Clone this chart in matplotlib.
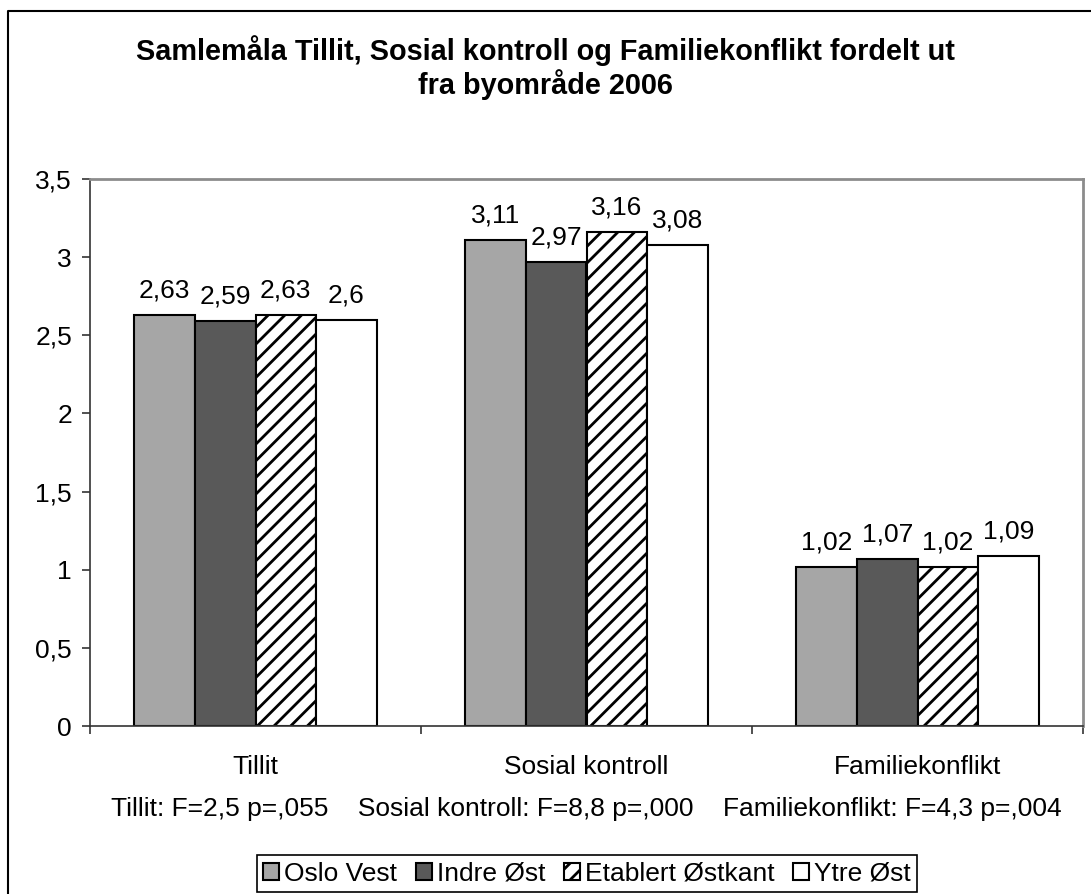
import matplotlib
matplotlib.use("Agg")
import matplotlib.pyplot as plt
from matplotlib.lines import Line2D
import numpy as np

plt.rcParams['font.family'] = ['Liberation Sans', 'DejaVu Sans']
plt.rcParams['hatch.linewidth'] = 2.0

categories = ['Tillit', 'Sosial kontroll', 'Familiekonflikt']
series = ['Oslo Vest', 'Indre Øst', 'Etablert Østkant', 'Ytre Øst']
oslo_vest = [2.63, 3.11, 1.02]
indre_ost = [2.59, 2.97, 1.07]
etablert_ostkant = [2.63, 3.16, 1.02]
ytre_ost = [2.60, 3.08, 1.09]
yticks = [0, 0.5, 1, 1.5, 2, 2.5, 3, 3.5]
ytick_labels = ['0', '0,5', '1', '1,5', '2', '2,5', '3', '3,5']
stats = ['Tillit: F=2,5 p=,055', 'Sosial kontroll: F=8,8 p=,000',
         'Familiekonflikt: F=4,3 p=,004']
title1 = 'Samlemåla Tillit, Sosial kontroll og Familiekonflikt fordelt ut'
title2 = 'fra byområde 2006'

FS = 19
W, H = 1091, 894
fig = plt.figure(figsize=(W / 100, H / 100), dpi=100)
ax = fig.add_axes([90 / W, 1 - 726 / H, (1083 - 90) / W, (726 - 179) / H])

values = [oslo_vest, indre_ost, etablert_ostkant, ytre_ost]
faces = ['#a6a6a6', '#595959', 'white', 'white']
hatches = [None, None, '//', None]
width = 0.183
x = np.arange(len(categories))

for i, vals in enumerate(values):
    pos = x + (i - 1.5) * width
    ax.bar(pos, vals, width, color=faces[i], edgecolor='black',
           linewidth=1.5, hatch=hatches[i], label=series[i])
    for p, v in zip(pos, vals):
        ax.annotate(f'{v:g}'.replace('.', ','), (p, v), xytext=(0, 9),
                    textcoords='offset points', ha='center', va='bottom',
                    fontsize=FS)

ax.set_xlim(-0.5, 2.5)
ax.set_ylim(0, 3.5)
ax.set_yticks(yticks, ytick_labels, fontsize=FS)
ax.tick_params(axis='y', length=6, width=1.2, pad=7, color='#333333')

# ticks between the groups, labels in the middle
ax.set_xticks([-0.5, 0.5, 1.5, 2.5], [''] * 4)
ax.set_xticks(x, categories, minor=True, fontsize=FS)
ax.tick_params(axis='x', which='major', length=6, width=1.2, color='#333333')
ax.tick_params(axis='x', which='minor', length=0, pad=21)

ax.set_xlabel('    '.join(stats), fontsize=FS, labelpad=13)

for s in ['left', 'bottom']:
    ax.spines[s].set_color('#333333')
    ax.spines[s].set_linewidth(1.2)
for s in ['top', 'right']:
    ax.spines[s].set_color('#8c8c8c')
    ax.spines[s].set_linewidth(2)

fig.text(0.5, 1 - 51 / H, title1, ha='center', va='center',
         fontsize=20.8, fontweight='bold')
fig.text(0.5, 1 - 85 / H, title2, ha='center', va='center',
         fontsize=20.8, fontweight='bold')

# outer chart border (left and top only visible)
fig.add_artist(Line2D([8 / W, 8 / W, 1], [0, 1 - 11 / H, 1 - 11 / H],
                      transform=fig.transFigure, color='black', lw=1.5))

leg = fig.legend(loc='upper center', bbox_to_anchor=(587 / W, 1 - 855 / H),
                 ncol=4, fontsize=FS, frameon=True, fancybox=False,
                 edgecolor='black', framealpha=1, handlelength=0.6,
                 handleheight=0.6, handletextpad=0.2, columnspacing=0.7,
                 borderpad=0.25, borderaxespad=0)
leg.get_frame().set_linewidth(1.2)

fig.savefig('out.png', dpi=100)
